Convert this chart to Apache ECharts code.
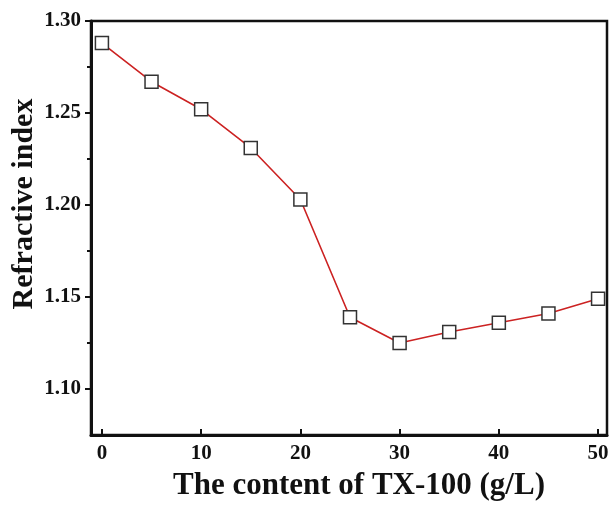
<!DOCTYPE html>
<html>
<head>
<meta charset="utf-8">
<script src="https://cdn.jsdelivr.net/npm/echarts@6/dist/echarts.min.js"></script>
<style>
  html, body { margin: 0; padding: 0; background: #fff; }
  #chart { width: 612px; height: 506px; }
</style>
</head>
<body>
<div id="chart"></div>
<script>
// TX-100 content (g/L) vs refractive index
const content = [0, 5, 10, 15, 20, 25, 30, 35, 40, 45, 50]
const refractiveIndex = [1.288, 1.267, 1.252, 1.231, 1.203, 1.139, 1.125, 1.131, 1.136, 1.141, 1.149]
const xTicks = [0, 10, 20, 30, 40, 50]
const yTicks = [1.10, 1.15, 1.20, 1.25, 1.30]
const yMinorTicks = [1.125, 1.175, 1.225, 1.275]

const font = 'Liberation Serif'
const ink = '#111'

const chart = echarts.init(document.getElementById('chart'))

const yBase = {
  type: 'value',
  min: 1.075,
  max: 1.30,
  splitLine: { show: false }
}

chart.setOption({
  animation: false,
  grid: {
    left: 91, top: 21, right: 5, bottom: 71,
    outerBoundsMode: 'none',
    show: true, borderColor: ink, borderWidth: 2.5, backgroundColor: 'transparent'
  },
  xAxis: {
    type: 'value',
    min: -1.1,
    max: 50.9,
    name: 'The content of TX-100 (g/L)',
    nameLocation: 'middle',
    nameGap: 35,
    nameMoveOverlap: false,
    nameTextStyle: {
      fontFamily: font, fontWeight: 'bold', fontSize: 31, color: ink,
      padding: [0, 0, 0, 20]
    },
    axisLine: { onZero: false, lineStyle: { color: ink, width: 3 } },
    axisTick: { inside: true, length: 6, lineStyle: { color: ink, width: 2 }, customValues: xTicks },
    axisLabel: {
      customValues: xTicks, margin: 8,
      fontFamily: font, fontWeight: 'bold', fontSize: 21, color: ink
    },
    splitLine: { show: false }
  },
  yAxis: [
    Object.assign({}, yBase, {
      name: 'Refractive index',
      nameLocation: 'middle',
      nameGap: 52,
      nameMoveOverlap: false,
      nameTextStyle: {
        fontFamily: font, fontWeight: 'bold', fontSize: 30, color: ink,
        padding: [0, 0, 0, 48]
      },
      axisLine: { show: true, onZero: false, lineStyle: { color: ink, width: 3 } },
      axisTick: { length: 6, lineStyle: { color: ink, width: 2 }, customValues: yTicks },
      axisLabel: {
        customValues: yTicks, margin: 10,
        formatter: v => v.toFixed(2),
        fontFamily: font, fontWeight: 'bold', fontSize: 21, color: ink
      }
    }),
    Object.assign({}, yBase, {
      position: 'left',
      axisLine: { show: false, onZero: false },
      axisTick: { length: 4, lineStyle: { color: ink, width: 2 }, customValues: yMinorTicks },
      axisLabel: { show: false }
    })
  ],
  series: [{
    type: 'line',
    data: content.map((c, i) => [c, refractiveIndex[i]]),
    symbol: 'rect',
    symbolSize: 13,
    lineStyle: { color: '#cc2222', width: 1.6 },
    itemStyle: { color: '#fff', borderColor: '#333', borderWidth: 1.5 },
    z: 3
  }]
})
</script>
</body>
</html>
